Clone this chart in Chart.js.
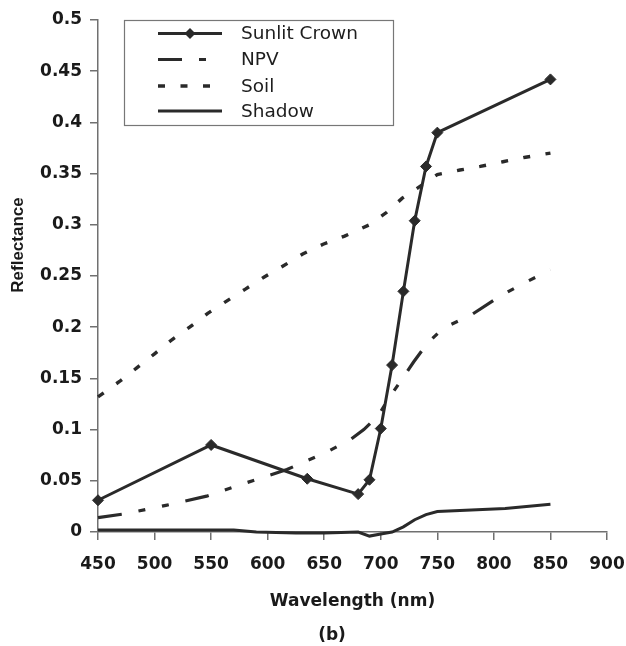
<!DOCTYPE html>
<html>
<head>
<meta charset="utf-8">
<script src="https://cdn.jsdelivr.net/npm/chart.js@4.4.0/dist/chart.umd.min.js"></script>
<style>
  html, body { margin: 0; padding: 0; background: #ffffff; }
  #c { display: block; }
</style>
</head>
<body>
<canvas id="c" width="626" height="646"></canvas>
<script>
// ---- data ----
const seriesNames = ['Sunlit Crown', 'NPV', 'Soil', 'Shadow'];

const sunlitX = [450, 550, 635, 680, 690, 700, 710, 720, 730, 740, 750, 850];
const sunlitY = [0.031, 0.085, 0.052, 0.037, 0.051, 0.101, 0.163, 0.235, 0.304, 0.357, 0.390, 0.442];

const npvX = [450, 475, 510, 546, 581, 617, 652, 673, 685, 698, 708, 718, 729, 741, 755, 780, 805, 823, 850];
const npvY = [0.014, 0.018, 0.026, 0.035, 0.048, 0.061, 0.078, 0.090, 0.100, 0.114, 0.132, 0.148, 0.166, 0.184, 0.199, 0.212, 0.230, 0.241, 0.256];

const soilX = [450, 469, 484, 500, 515, 531, 547, 563, 580, 597, 614, 631, 649, 668, 690, 705, 719, 734, 750, 770, 788, 808, 828, 850];
const soilY = [0.132, 0.147, 0.160, 0.174, 0.1875, 0.200, 0.2135, 0.225, 0.237, 0.249, 0.260, 0.2715, 0.281, 0.289, 0.300, 0.312, 0.326, 0.337, 0.349, 0.3535, 0.357, 0.3616, 0.366, 0.370];

const shadowX = [450, 570, 590, 625, 650, 680, 690, 700, 710, 720, 730, 740, 750, 770, 810, 850];
const shadowY = [0.002, 0.002, 0.000, -0.001, -0.001, 0.000, -0.004, -0.002, 0.000, 0.005, 0.012, 0.017, 0.020, 0.021, 0.023, 0.027];

const xTickLabels = ['450', '500', '550', '600', '650', '700', '750', '800', '850', '900'];
const yTickLabels = ['0', '0.05', '0.1', '0.15', '0.2', '0.25', '0.3', '0.35', '0.4', '0.45', '0.5'];

const xTitle = 'Wavelength (nm)';
const yTitle = 'Reflectance';
const panelLabel = '(b)';

// ---- helpers ----
function pts(xs, ys) { return xs.map((x, i) => ({ x: x, y: ys[i] })); }

const ink = '#2a2a2a';
const axisGrey = '#707070';
const tickFont = { family: 'DejaVu Sans', size: 17, weight: 'bold' };

const datasets = [
  { label: seriesNames[0], data: pts(sunlitX, sunlitY), borderColor: ink, backgroundColor: ink,
    borderWidth: 3, pointStyle: 'rectRot', pointRadius: 5.5, pointBackgroundColor: ink,
    pointBorderColor: ink, pointBorderWidth: 1, borderDash: [] },
  { label: seriesNames[1], data: pts(npvX, npvY), borderColor: ink, borderWidth: 3.2,
    pointRadius: 0, borderDash: [24, 17, 7, 17, 7, 17] },
  { label: seriesNames[2], data: pts(soilX, soilY), borderColor: ink, borderWidth: 3.4,
    pointRadius: 0, borderDash: [7, 15.5] },
  { label: seriesNames[3], data: pts(shadowX, shadowY), borderColor: ink, borderWidth: 3,
    pointRadius: 0, borderDash: [] }
];

const extraText = {
  id: 'extraText',
  afterDraw(chart) {
    const ctx = chart.ctx;
    ctx.save();
    // y axis title
    ctx.fillStyle = '#1a1a1a';
    ctx.font = 'bold 17px "Liberation Sans", Arial, sans-serif';
    ctx.textAlign = 'center';
    ctx.textBaseline = 'middle';
    ctx.translate(18, 245);
    ctx.rotate(-Math.PI / 2);
    ctx.fillText(yTitle, 0, 0);
    ctx.restore();

    ctx.save();
    ctx.fillStyle = '#1a1a1a';
    ctx.font = 'bold 17px "DejaVu Sans", sans-serif';
    ctx.textAlign = 'center';
    ctx.textBaseline = 'middle';
    ctx.fillText(panelLabel, 332, 636);
    ctx.restore();

    // legend box
    ctx.save();
    const bx = 124.5, by = 20.5, bw = 269, bh = 105;
    ctx.fillStyle = '#ffffff';
    ctx.fillRect(bx, by, bw, bh);
    ctx.strokeStyle = '#777777';
    ctx.lineWidth = 1.2;
    ctx.strokeRect(bx, by, bw, bh);
    const rowsY = [33.5, 59.5, 86, 111];
    chart.data.datasets.forEach((ds, i) => {
      const y = rowsY[i];
      ctx.save();
      ctx.strokeStyle = ds.borderColor;
      ctx.lineWidth = ds.borderWidth;
      ctx.setLineDash(ds.borderDash || []);
      ctx.beginPath();
      ctx.moveTo(158, y);
      ctx.lineTo(222, y);
      ctx.stroke();
      ctx.restore();
      if (ds.pointRadius > 0) {
        ctx.save();
        ctx.fillStyle = ds.pointBackgroundColor;
        const r = ds.pointRadius;
        ctx.beginPath();
        ctx.moveTo(190, y - r);
        ctx.lineTo(190 + r, y);
        ctx.lineTo(190, y + r);
        ctx.lineTo(190 - r, y);
        ctx.closePath();
        ctx.fill();
        ctx.restore();
      }
      ctx.fillStyle = '#1e1e1e';
      ctx.font = '18.5px "DejaVu Sans", sans-serif';
      ctx.textAlign = 'left';
      ctx.textBaseline = 'middle';
      ctx.fillText(ds.label, 241, y + 1);
    });
    ctx.restore();
  }
};

new Chart(document.getElementById('c'), {
  type: 'line',
  data: { datasets: datasets },
  options: {
    responsive: false,
    animation: false,
    devicePixelRatio: 1,
    clip: false,
    layout: { padding: { left: 0, top: 20, right: 19, bottom: 20 } },
    elements: { line: { tension: 0 } },
    plugins: { legend: { display: false }, tooltip: { enabled: false }, title: { display: false } },
    scales: {
      x: {
        type: 'linear',
        min: 450, max: 900,
        afterFit(scale) { scale.height = 94; scale.paddingRight = 0; scale.paddingLeft = 0; },
        ticks: {
          stepSize: 50, padding: 14, color: '#1a1a1a', font: tickFont, maxRotation: 0, autoSkip: false,
          callback: (v, i) => xTickLabels[i]
        },
        grid: { drawOnChartArea: false, drawTicks: true, tickLength: 8, color: axisGrey, lineWidth: 1.5 },
        border: { display: true, color: axisGrey, width: 1.5 },
        title: {
          display: true, text: xTitle, color: '#1a1a1a',
          font: { family: 'DejaVu Sans', size: 17, weight: 'bold' },
          padding: { top: 0, bottom: 14 }
        }
      },
      y: {
        type: 'linear',
        min: 0, max: 0.5,
        afterFit(scale) { scale.width = 98; scale.paddingTop = 0; scale.paddingBottom = 0; },
        ticks: {
          stepSize: 0.05, padding: 8, color: '#1a1a1a', font: tickFont, autoSkip: false,
          callback: (v, i) => yTickLabels[i]
        },
        grid: { drawOnChartArea: false, drawTicks: true, tickLength: 8, color: axisGrey, lineWidth: 1.5 },
        border: { display: true, color: axisGrey, width: 1.5 },
        title: { display: false }
      }
    }
  },
  plugins: [extraText]
});
</script>
</body>
</html>
